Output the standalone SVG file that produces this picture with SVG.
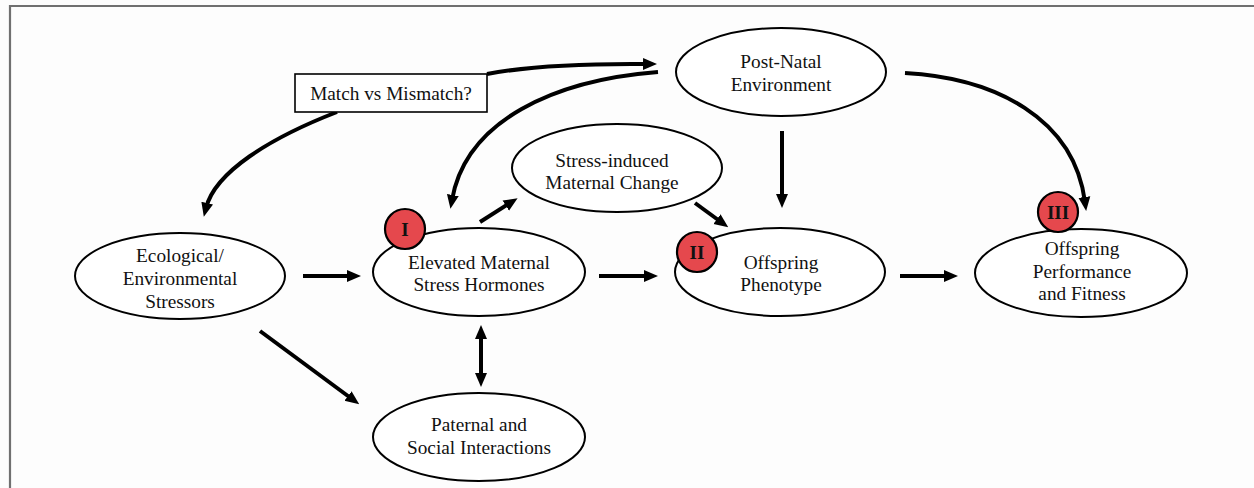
<svg xmlns="http://www.w3.org/2000/svg" width="1254" height="488" viewBox="0 0 1254 488">
<style>
  .node ellipse { fill: #ffffff; stroke: #000; stroke-width: 2; }
  .lbl { font-family: "Liberation Serif", "Times New Roman", serif; font-size: 19.3px; fill: #111; text-anchor: middle; }
  .badge circle { fill: #e5484d; stroke: #000; stroke-width: 2.2; }
  .badge text { font-family: "Liberation Serif", "Times New Roman", serif; font-size: 19px; font-weight: bold; fill: #111; text-anchor: middle; }
  .conn path, .conn line { fill: none; stroke: #000; stroke-width: 4; }
  .frame { stroke: #707070; stroke-width: 2.2; }
</style>
<defs>
  <marker id="ah" markerUnits="userSpaceOnUse" markerWidth="14" markerHeight="14" viewBox="0 0 14 14" refX="5" refY="7" orient="auto-start-reverse">
    <path d="M0,1 L14,7 L0,13 z" fill="#000"/>
  </marker>
</defs>
<rect width="1254" height="488" fill="#fdfdfd"/>
<line class="frame" x1="10" y1="6" x2="1254" y2="6"/>
<line class="frame" x1="10" y1="5" x2="10" y2="488"/>

<g id="connectors" class="conn">
  <line x1="303" y1="276" x2="352" y2="276" marker-end="url(#ah)"/>
  <line x1="599" y1="276" x2="649" y2="276" marker-end="url(#ah)"/>
  <line x1="900" y1="276" x2="949" y2="276" marker-end="url(#ah)"/>
  <line x1="260" y1="331" x2="352" y2="399" marker-end="url(#ah)"/>
  <line x1="481" y1="334" x2="481" y2="378" marker-start="url(#ah)" marker-end="url(#ah)"/>
  <line x1="480" y1="222" x2="510" y2="203" marker-end="url(#ah)"/>
  <line x1="695" y1="203" x2="721" y2="222" marker-end="url(#ah)"/>
  <line x1="782" y1="131" x2="782" y2="199" marker-end="url(#ah)"/>
  <path d="M487,74 Q545,63 648,64" marker-end="url(#ah)"/>
  <path d="M658,72 C555,80 466,120 452,200" marker-end="url(#ah)"/>
  <path d="M337,112 C270,138 215,172 206,208" marker-end="url(#ah)"/>
  <path d="M905,73 C995,78 1074,118 1085,202" marker-end="url(#ah)"/>
</g>

<g id="match-box">
  <rect x="295" y="74" width="192" height="38" fill="#fff" stroke="#000" stroke-width="1.6"/>
  <text class="lbl" x="391" y="99.5">Match vs Mismatch?</text>
</g>

<g id="post-natal" class="node">
  <ellipse cx="781" cy="72" rx="105" ry="44"/>
  <text class="lbl" x="781" y="68">Post-Natal</text>
  <text class="lbl" x="781" y="91">Environment</text>
</g>

<g id="stress-induced" class="node">
  <ellipse cx="617" cy="168" rx="105" ry="44"/>
  <text class="lbl" x="612" y="167">Stress-induced</text>
  <text class="lbl" x="612" y="189">Maternal Change</text>
</g>

<g id="ecological" class="node">
  <ellipse cx="180" cy="276" rx="105" ry="43"/>
  <text class="lbl" x="180" y="262">Ecological/</text>
  <text class="lbl" x="180" y="285">Environmental</text>
  <text class="lbl" x="180" y="308">Stressors</text>
</g>

<g id="elevated" class="node">
  <ellipse cx="479" cy="272" rx="106" ry="44"/>
  <text class="lbl" x="479" y="269">Elevated Maternal</text>
  <text class="lbl" x="479" y="291">Stress Hormones</text>
</g>

<g id="phenotype" class="node">
  <ellipse cx="780" cy="272" rx="105" ry="44"/>
  <text class="lbl" x="781" y="269">Offspring</text>
  <text class="lbl" x="781" y="291">Phenotype</text>
</g>

<g id="performance" class="node">
  <ellipse cx="1081" cy="273" rx="106" ry="44"/>
  <text class="lbl" x="1082" y="255">Offspring</text>
  <text class="lbl" x="1082" y="278">Performance</text>
  <text class="lbl" x="1082" y="300">and Fitness</text>
</g>

<g id="paternal" class="node">
  <ellipse cx="479" cy="437" rx="106" ry="44"/>
  <text class="lbl" x="479" y="431">Paternal and</text>
  <text class="lbl" x="479" y="454">Social Interactions</text>
</g>

<g id="badge-I" class="badge">
  <circle cx="405" cy="229" r="20"/>
  <text x="405" y="236">I</text>
</g>
<g id="badge-II" class="badge">
  <circle cx="697" cy="252" r="20"/>
  <text x="697" y="259">II</text>
</g>
<g id="badge-III" class="badge">
  <circle cx="1058" cy="212" r="20"/>
  <text x="1058" y="219">III</text>
</g>
</svg>
